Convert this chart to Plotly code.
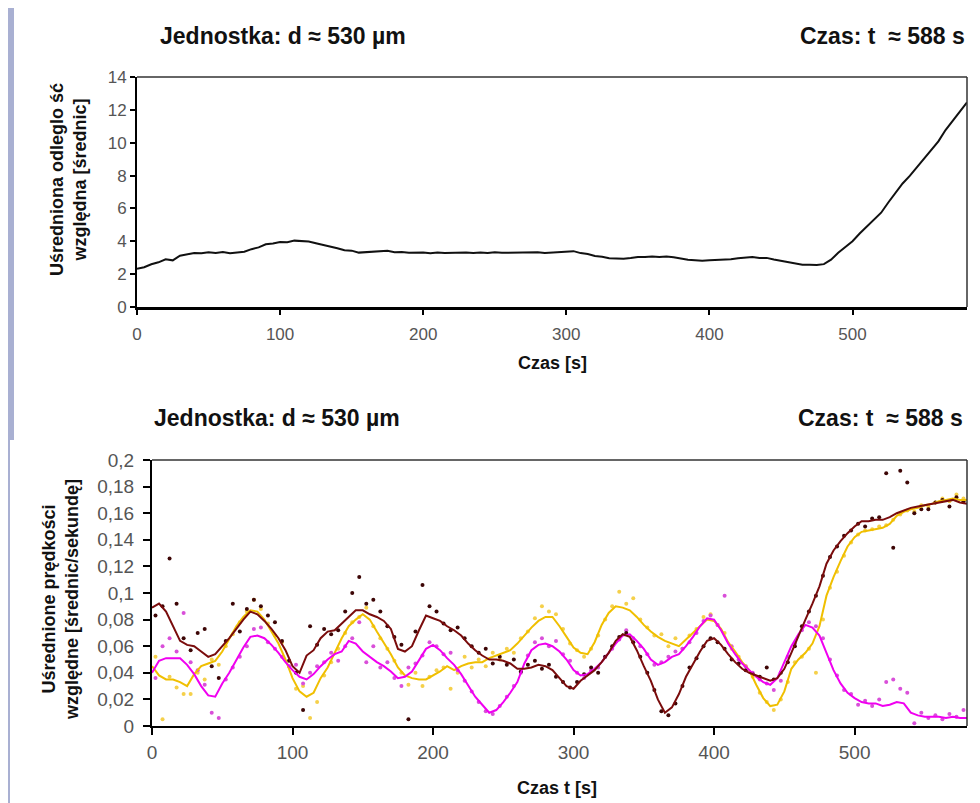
# %%
import plotly.graph_objs as go

# %% data
# top panel: mean relative distance [diameters] every 5 s
t_top = list(range(0, 581, 5))
dist_top = [2.33, 2.42, 2.60, 2.72, 2.90, 2.84, 3.12, 3.20, 3.29, 3.27,
            3.33, 3.28, 3.34, 3.27, 3.32, 3.36, 3.52, 3.63, 3.82, 3.86,
            3.95, 3.94, 4.04, 4.00, 3.98, 3.88, 3.79, 3.66, 3.58, 3.46,
            3.43, 3.31, 3.33, 3.35, 3.40, 3.43, 3.34, 3.35, 3.30, 3.30,
            3.32, 3.27, 3.31, 3.29, 3.30, 3.28, 3.31, 3.28, 3.32, 3.29,
            3.33, 3.30, 3.31, 3.29, 3.33, 3.30, 3.33, 3.29, 3.32, 3.34,
            3.35, 3.40, 3.28, 3.23, 3.10, 3.06, 2.97, 2.96, 2.94, 2.98,
            3.05, 3.04, 3.07, 3.04, 3.07, 3.03, 2.96, 2.87, 2.85, 2.81,
            2.84, 2.85, 2.89, 2.91, 2.97, 3.01, 3.04, 2.99, 2.99, 2.89,
            2.81, 2.71, 2.64, 2.57, 2.57, 2.55, 2.61, 2.88, 3.30, 3.65,
            4.00, 4.47, 4.88, 5.32, 5.74, 6.36, 6.93, 7.52, 7.98, 8.52,
            9.03, 9.57, 10.08, 10.77, 11.33, 11.92, 12.45]

# bottom panel: smoothed velocity lines every 5 s
t_line = list(range(0, 581, 5))
maroon_line = [0.089, 0.092, 0.086, 0.075, 0.064, 0.061, 0.060, 0.056, 0.052, 0.054,
               0.060, 0.066, 0.073, 0.080, 0.086, 0.084, 0.079, 0.073, 0.066, 0.057,
               0.045, 0.040, 0.053, 0.057, 0.066, 0.071, 0.072, 0.077, 0.082, 0.087,
               0.087, 0.084, 0.082, 0.079, 0.073, 0.058, 0.056, 0.060, 0.072, 0.083,
               0.081, 0.079, 0.075, 0.072, 0.068, 0.062, 0.057, 0.053, 0.050, 0.050,
               0.049, 0.047, 0.043, 0.043, 0.044, 0.046, 0.045, 0.042, 0.036, 0.030,
               0.028, 0.034, 0.038, 0.042, 0.048, 0.055, 0.064, 0.069, 0.067, 0.057,
               0.045, 0.034, 0.020, 0.010, 0.014, 0.024, 0.037, 0.047, 0.056, 0.064,
               0.066, 0.061, 0.054, 0.048, 0.043, 0.040, 0.038, 0.036, 0.034, 0.036,
               0.043, 0.055, 0.068, 0.080, 0.092, 0.105, 0.122, 0.132, 0.139, 0.145,
               0.150, 0.154, 0.154, 0.155, 0.155, 0.157, 0.160, 0.162, 0.164, 0.165,
               0.166, 0.167, 0.168, 0.169, 0.170, 0.168, 0.167]
gold_line = [0.045, 0.038, 0.035, 0.035, 0.033, 0.030, 0.039, 0.045, 0.047, 0.049,
             0.056, 0.066, 0.075, 0.082, 0.087, 0.086, 0.080, 0.071, 0.062, 0.050,
             0.036, 0.026, 0.022, 0.025, 0.036, 0.044, 0.055, 0.066, 0.075, 0.080,
             0.084, 0.080, 0.071, 0.063, 0.054, 0.044, 0.038, 0.036, 0.035, 0.035,
             0.038, 0.041, 0.045, 0.042, 0.045, 0.047, 0.048, 0.048, 0.051, 0.053,
             0.055, 0.057, 0.062, 0.068, 0.074, 0.079, 0.082, 0.082, 0.075, 0.067,
             0.059, 0.055, 0.054, 0.063, 0.076, 0.085, 0.090, 0.089, 0.087, 0.082,
             0.076, 0.071, 0.067, 0.064, 0.062, 0.060, 0.065, 0.070, 0.075, 0.080,
             0.079, 0.073, 0.063, 0.056, 0.048, 0.042, 0.031, 0.021, 0.015, 0.016,
             0.026, 0.043, 0.050, 0.055, 0.062, 0.075, 0.098, 0.112, 0.124, 0.135,
             0.142, 0.146, 0.147, 0.148, 0.149, 0.152, 0.158, 0.161, 0.163, 0.164,
             0.166, 0.167, 0.169, 0.170, 0.171, 0.170, 0.170]
magenta_line = [0.040, 0.049, 0.051, 0.051, 0.051, 0.046, 0.039, 0.030, 0.023, 0.022,
                0.032, 0.040, 0.050, 0.059, 0.067, 0.068, 0.066, 0.061, 0.055, 0.048,
                0.042, 0.037, 0.035, 0.039, 0.045, 0.050, 0.054, 0.056, 0.064, 0.062,
                0.056, 0.052, 0.048, 0.045, 0.041, 0.036, 0.037, 0.041, 0.050, 0.058,
                0.061, 0.057, 0.051, 0.046, 0.039, 0.030, 0.022, 0.016, 0.010, 0.012,
                0.018, 0.025, 0.033, 0.047, 0.057, 0.061, 0.062, 0.060, 0.056, 0.050,
                0.042, 0.038, 0.039, 0.043, 0.048, 0.055, 0.062, 0.068, 0.069, 0.064,
                0.058, 0.050, 0.046, 0.048, 0.052, 0.054, 0.060, 0.067, 0.075, 0.081,
                0.080, 0.072, 0.062, 0.054, 0.047, 0.042, 0.037, 0.033, 0.031, 0.036,
                0.048, 0.060, 0.069, 0.076, 0.074, 0.068, 0.055, 0.042, 0.032, 0.025,
                0.021, 0.018, 0.017, 0.017, 0.015, 0.016, 0.018, 0.017, 0.010, 0.008,
                0.007, 0.007, 0.007, 0.006, 0.007, 0.006, 0.006]

# bottom panel: raw points, half way between the line samples
t_dots = [x / 2 for x in range(5, 1160, 10)]
maroon_dots = [0.083, 0.090, 0.126, 0.092, 0.066, 0.057, 0.070, 0.073, 0.045, 0.036,
               0.064, 0.092, 0.071, 0.088, 0.095, 0.090, 0.083, 0.078, 0.064, 0.049,
               0.040, 0.012, 0.075, 0.061, 0.073, 0.069, 0.072, 0.086, 0.100, 0.112,
               0.092, 0.095, 0.086, 0.075, 0.067, 0.061, 0.005, 0.071, 0.106, 0.090,
               0.086, 0.077, 0.072, 0.074, 0.066, 0.060, 0.055, 0.058, 0.047, 0.052,
               0.046, 0.050, 0.041, 0.046, 0.049, 0.043, 0.046, 0.037, 0.033, 0.029,
               0.033, 0.039, 0.044, 0.040, 0.052, 0.060, 0.067, 0.070, 0.063, 0.052,
               0.040, 0.027, 0.011, 0.008, 0.017, 0.030, 0.044, 0.051, 0.060, 0.066,
               0.063, 0.058, 0.050, 0.047, 0.042, 0.039, 0.037, 0.044, 0.035, 0.040,
               0.048, 0.060, 0.075, 0.086, 0.098, 0.113, 0.127, 0.135, 0.143, 0.147,
               0.152, 0.150, 0.156, 0.157, 0.190, 0.134, 0.192, 0.183, 0.160, 0.163,
               0.163, 0.168, 0.170, 0.165, 0.172, 0.169]
gold_dots = [0.052, 0.005, 0.037, 0.029, 0.024, 0.024, 0.040, 0.035, 0.050, 0.046,
             0.060, 0.069, 0.078, 0.086, 0.095, 0.088, 0.077, 0.068, 0.063, 0.045,
             0.028, 0.030, 0.006, 0.018, 0.038, 0.048, 0.058, 0.070, 0.078, 0.082,
             0.089, 0.075, 0.066, 0.058, 0.049, 0.040, 0.031, 0.040, 0.030, 0.037,
             0.042, 0.044, 0.028, 0.040, 0.052, 0.044, 0.050, 0.045, 0.055, 0.050,
             0.058, 0.055, 0.066, 0.071, 0.081, 0.090, 0.086, 0.084, 0.073, 0.062,
             0.057, 0.052, 0.058, 0.068, 0.080, 0.090, 0.101, 0.092, 0.096, 0.080,
             0.074, 0.068, 0.069, 0.060, 0.066, 0.058, 0.068, 0.073, 0.082, 0.084,
             0.076, 0.070, 0.058, 0.052, 0.045, 0.037, 0.025, 0.018, 0.012, 0.020,
             0.033, 0.048, 0.052, 0.058, 0.040, 0.080, 0.104, 0.116, 0.128, 0.138,
             0.144, 0.147, 0.148, 0.150, 0.151, 0.155, 0.159, 0.162, 0.161, 0.166,
             0.165, 0.168, 0.171, 0.169, 0.174, 0.171]
magenta_dots = [0.036, 0.060, 0.066, 0.056, 0.085, 0.048, 0.042, 0.031, 0.010, 0.006,
                0.035, 0.044, 0.052, 0.060, 0.073, 0.074, 0.063, 0.058, 0.052, 0.045,
                0.046, 0.032, 0.040, 0.045, 0.048, 0.055, 0.049, 0.060, 0.066, 0.078,
                0.048, 0.060, 0.044, 0.048, 0.036, 0.030, 0.044, 0.047, 0.053, 0.063,
                0.060, 0.054, 0.055, 0.042, 0.034, 0.026, 0.018, 0.011, 0.009, 0.015,
                0.022, 0.030, 0.040, 0.053, 0.063, 0.066, 0.060, 0.064, 0.054, 0.049,
                0.040, 0.036, 0.042, 0.044, 0.052, 0.058, 0.065, 0.072, 0.066, 0.060,
                0.054, 0.046, 0.048, 0.052, 0.056, 0.058, 0.063, 0.070, 0.079, 0.083,
                0.076, 0.098, 0.060, 0.050, 0.045, 0.040, 0.035, 0.032, 0.027, 0.034,
                0.052, 0.062, 0.072, 0.078, 0.075, 0.066, 0.050, 0.038, 0.027, 0.024,
                0.016, 0.019, 0.015, 0.020, 0.033, 0.035, 0.028, 0.025, 0.002, 0.010,
                0.006, 0.008, 0.005, 0.009, 0.007, 0.012]

x_ticks = [0, 100, 200, 300, 400, 500]
y_top_ticks = [0, 2, 4, 6, 8, 10, 12, 14]
y_bot_ticks = [0, 0.02, 0.04, 0.06, 0.08, 0.1, 0.12, 0.14, 0.16, 0.18, 0.2]
y_bot_text = ['0', '0,02', '0,04', '0,06', '0,08', '0,1', '0,12', '0,14',
              '0,16', '0,18', '0,2']

# %% figure
FONT = 'Liberation Sans, Arial, sans-serif'
# the page puts the plot 8 px in from the top-left corner,
# so the figure is 8 px smaller and every position is shifted by 8
OFF = 8
W, H = 980 - OFF, 803 - OFF


def px_x(p):
    return (p - OFF) / W


def px_y(p):
    return 1 - (p - OFF) / H


data = []

# top chart line
data.append(go.Scatter(x=t_top, y=dist_top, mode='lines',
                       line=dict(color='#111111', width=2),
                       xaxis='x', yaxis='y', showlegend=False))

# bottom chart: dots first, then the smoothed lines
series = [(gold_dots, gold_line, '#f5d04a', '#f0bf00'),
          (magenta_dots, magenta_line, '#d94fd9', '#f000f0'),
          (maroon_dots, maroon_line, '#3d0606', '#7a0c0c')]
for dots, line, dot_col, line_col in series:
    data.append(go.Scatter(x=t_dots, y=dots, mode='markers',
                           marker=dict(color=dot_col, size=4),
                           xaxis='x2', yaxis='y2', showlegend=False))
for dots, line, dot_col, line_col in series:
    data.append(go.Scatter(x=t_line, y=line, mode='lines',
                           line=dict(color=line_col, width=2),
                           xaxis='x2', yaxis='y2', showlegend=False))

tick_top = dict(family=FONT, size=17, color='#555555')
tick_bot = dict(family=FONT, size=19, color='#555555')

layout = go.Layout(
    width=W, height=H,
    margin=dict(l=0, r=0, t=0, b=0, pad=0, autoexpand=False),
    paper_bgcolor='#a9b0d2', plot_bgcolor='white',
    font=dict(family=FONT),
    xaxis=dict(domain=[px_x(137), px_x(967)], range=[0, 580], anchor='y',
               tickvals=x_ticks, ticks='outside', ticklen=5, tickwidth=1.5,
               tickcolor='black', showline=True, linecolor='black',
               linewidth=3, showgrid=False, zeroline=False,
               tickfont=tick_top, ticklabelstandoff=5, automargin=False),
    yaxis=dict(domain=[px_y(307), px_y(77)], range=[0, 14], anchor='x',
               tickvals=y_top_ticks, ticks='outside', ticklen=5,
               tickwidth=1.5, tickcolor='black', showline=True,
               linecolor='black', linewidth=2, showgrid=False,
               zeroline=False, tickfont=tick_top, automargin=False),
    xaxis2=dict(domain=[px_x(152), px_x(967)], range=[0, 580], anchor='y2',
                tickvals=x_ticks, ticks='outside', ticklen=7, tickwidth=1.5,
                tickcolor='black', showline=True, linecolor='black',
                linewidth=2, showgrid=False, zeroline=False,
                tickfont=tick_bot, ticklabelstandoff=1, automargin=False),
    yaxis2=dict(domain=[px_y(726), px_y(460)], range=[0, 0.2], anchor='x2',
                tickvals=y_bot_ticks, ticktext=y_bot_text, ticks='outside',
                ticklen=7, tickwidth=1.5, tickcolor='black', showline=True,
                linecolor='black', linewidth=2, showgrid=False,
                zeroline=False, tickfont=tick_bot, ticklabelstandoff=5,
                automargin=False),
)

# white slide panels on the blue-grey background, then the frame lines
shapes = [
    dict(type='rect', xref='paper', yref='paper', x0=px_x(14), x1=1,
         y0=px_y(440), y1=1, fillcolor='white', line=dict(width=0),
         layer='below'),
    dict(type='rect', xref='paper', yref='paper', x0=px_x(10), x1=1,
         y0=0, y1=px_y(440), fillcolor='white', line=dict(width=0),
         layer='below'),
]
for xr, yr in [('x domain', 'y domain'), ('x2 domain', 'y2 domain')]:
    shapes.append(dict(type='line', xref=xr, yref=yr, x0=0, x1=1, y0=1, y1=1,
                       line=dict(color='#333333', width=1.5)))
    shapes.append(dict(type='line', xref=xr, yref=yr, x0=1, x1=1, y0=0, y1=1,
                       line=dict(color='#333333', width=1.5)))
layout.shapes = shapes

title_font = dict(family=FONT, size=23, color='#111111')
axis_font = dict(family=FONT, size=18, color='#111111')
unit = 'Jednostka: d \u2248 530 \u00b5m'
czas = 'Czas: t \u00a0\u2248 588 s'


def note(text, x, y, font, xanchor='center', angle=0):
    return dict(text=text, x=x, y=y, xref='paper', yref='paper',
                xanchor=xanchor, yanchor='middle', showarrow=False,
                font=font, textangle=angle, align='center')


layout.annotations = [
    note('<b>' + unit + '</b>', px_x(283), px_y(36), title_font),
    note('<b>' + czas + '</b>', px_x(967), px_y(36), title_font, 'right'),
    note('<b>Czas [s]</b>', px_x(552), px_y(363), axis_font),
    note('<b>Uśredniona odleglo ść<br>względna [średnic]</b>',
         px_x(69), px_y(180), axis_font, angle=-90),
    note('<b>' + unit + '</b>', px_x(277), px_y(418), title_font),
    note('<b>' + czas + '</b>', px_x(965), px_y(418), title_font, 'right'),
    note('<b>Czas t [s]</b>', px_x(557), px_y(788), axis_font),
    note('<b>Uśrednione prędkości<br>względne [średnic/sekundę]</b>',
         px_x(60), px_y(600), dict(family=FONT, size=18, color='#111111'),
         angle=-90),
]

fig = go.Figure(data=data, layout=layout)
fig.write_html('out.html')
